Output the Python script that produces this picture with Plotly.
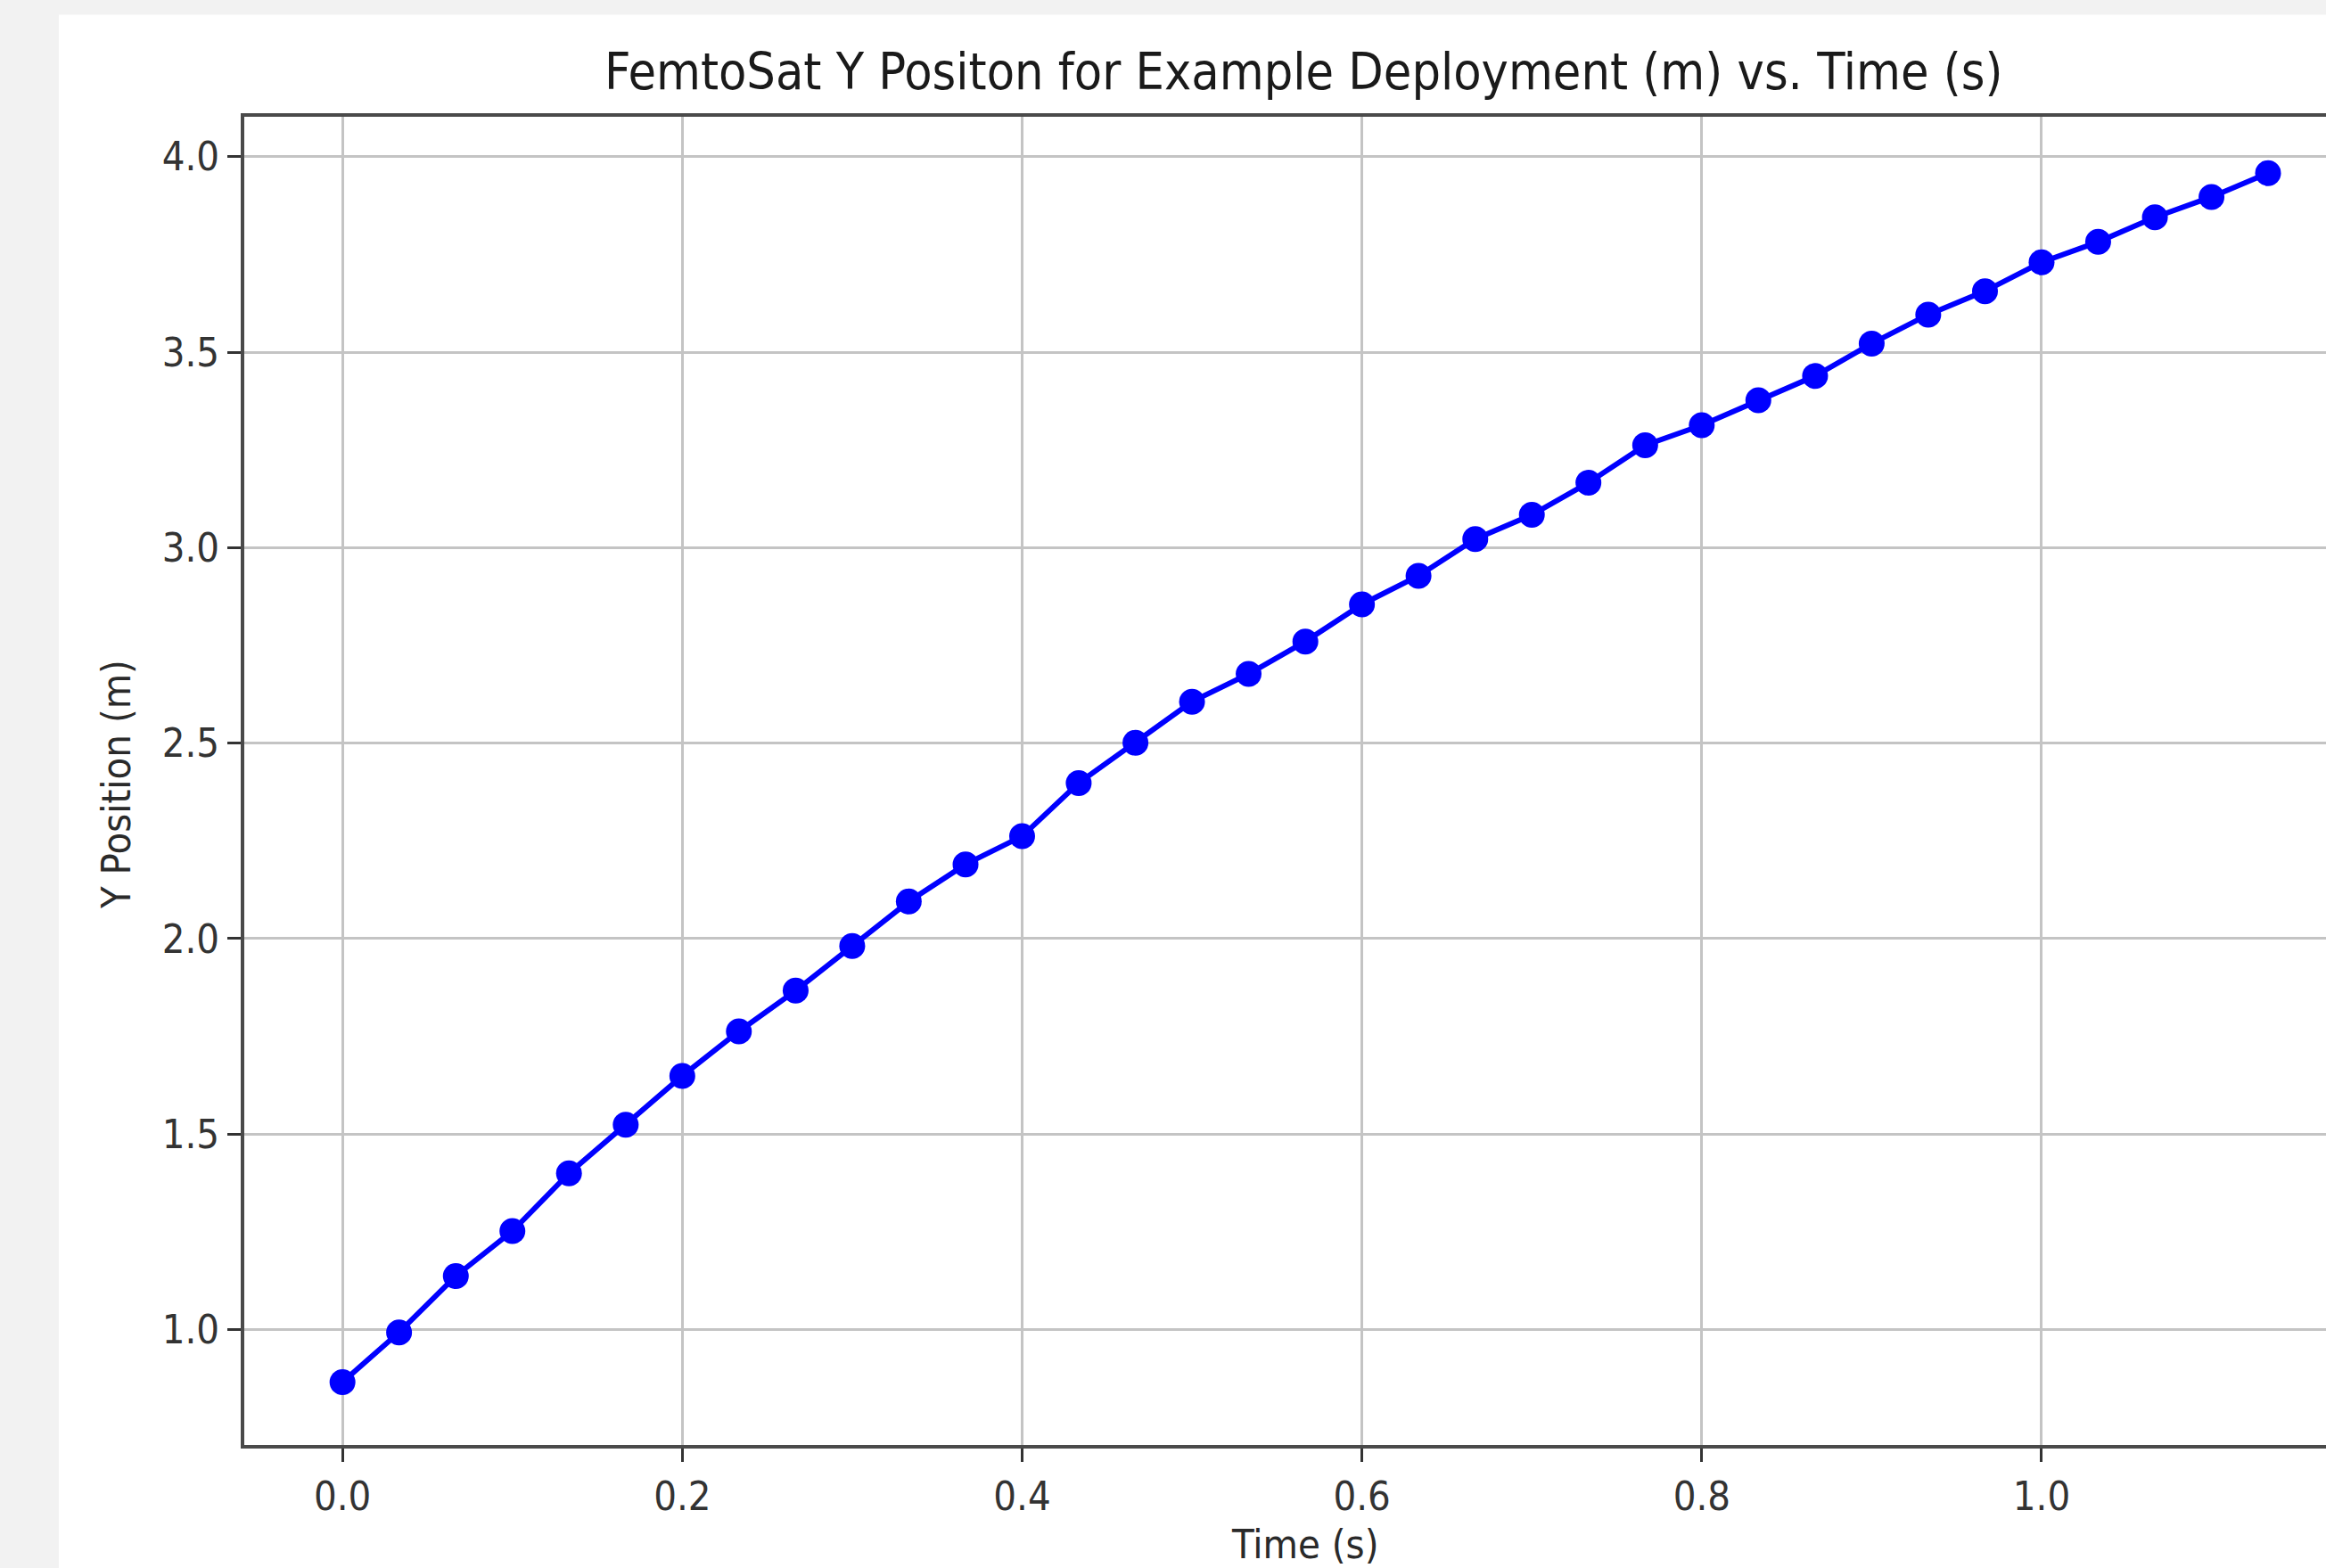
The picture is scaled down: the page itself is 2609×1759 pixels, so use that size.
import plotly.graph_objects as go

W, H = 2609, 1759

time_s = [0.0, 0.0333, 0.0667, 0.1, 0.1333, 0.1667, 0.2, 0.2333, 0.2667, 0.3,
          0.3333, 0.3667, 0.4, 0.4333, 0.4667, 0.5, 0.5333, 0.5667, 0.6, 0.6333,
          0.6667, 0.7, 0.7333, 0.7667, 0.8, 0.8333, 0.8667, 0.9, 0.9333, 0.9667,
          1.0, 1.0333, 1.0667, 1.1, 1.1333]
y_pos = [0.866, 0.993, 1.137, 1.252, 1.400, 1.524, 1.649, 1.763, 1.867, 1.981,
         2.095, 2.190, 2.262, 2.398, 2.501, 2.606, 2.677, 2.760, 2.855, 2.928,
         3.022, 3.084, 3.166, 3.262, 3.313, 3.377, 3.439, 3.522, 3.596, 3.656,
         3.730, 3.782, 3.845, 3.897, 3.958]

x_ticks = [0.0, 0.2, 0.4, 0.6, 0.8, 1.0]
x_tick_labels = ["0.0", "0.2", "0.4", "0.6", "0.8", "1.0"]
y_ticks = [1.0, 1.5, 2.0, 2.5, 3.0, 3.5, 4.0]
y_tick_labels = ["1.0", "1.5", "2.0", "2.5", "3.0", "3.5", "4.0"]

title_text = "FemtoSat Y Positon for Example Deployment (m) vs. Time (s)"
x_label = "Time (s)"
y_label = "Y Position (m)"

FONT = "DejaVu Sans Condensed, DejaVu Sans, sans-serif"

L, R, T, B = 274, 0, 131, 138

fig = go.Figure()
fig.add_trace(go.Scatter(
    x=time_s, y=y_pos, mode="lines+markers",
    line=dict(color="#0000ff", width=6),
    marker=dict(color="#0000ff", size=29, line=dict(width=0)),
    showlegend=False,
))

axis_common = dict(
    showgrid=True, gridcolor="#c4c4c4", gridwidth=3,
    showline=True, linecolor="#4a4a4a", linewidth=4,
    ticks="outside", ticklen=15, tickwidth=3, tickcolor="#333333",
    tickfont=dict(family=FONT, size=45, color="#333333"),
    zeroline=False,
)

fig.update_xaxes(range=[-0.0578, 1.1674], tickvals=x_ticks, ticktext=x_tick_labels,
                 mirror=True, **axis_common)
fig.update_yaxes(range=[0.705, 4.102], tickvals=y_ticks, ticktext=y_tick_labels,
                 mirror=False, **axis_common)

pw, ph = W - L - R, H - T - B
def px_x(x):
    return (x - L) / pw
def px_y(y):
    return (H - B - y) / ph

# gray page border strips
fig.add_shape(type="rect", xref="paper", yref="paper", layer="below",
              x0=px_x(0), x1=px_x(66), y0=px_y(H), y1=px_y(0),
              fillcolor="#f2f2f2", line=dict(width=0))
fig.add_shape(type="rect", xref="paper", yref="paper", layer="below",
              x0=px_x(0), x1=px_x(W), y0=px_y(16.5), y1=px_y(0),
              fillcolor="#f2f2f2", line=dict(width=0))

fig.add_annotation(text=title_text, xref="paper", yref="paper",
                   x=px_x(1462), y=px_y(80), xanchor="center", yanchor="middle",
                   showarrow=False, font=dict(family=FONT, size=57, color="#1a1a1a"))
fig.add_annotation(text=x_label, xref="paper", yref="paper",
                   x=px_x(1464), y=px_y(1732), xanchor="center", yanchor="middle",
                   showarrow=False, font=dict(family=FONT, size=45, color="#2a2a2a"))
fig.add_annotation(text=y_label, xref="paper", yref="paper",
                   x=px_x(131), y=px_y(880), xanchor="center", yanchor="middle",
                   textangle=-90,
                   showarrow=False, font=dict(family=FONT, size=45, color="#2a2a2a"))

fig.update_layout(
    width=W, height=H,
    margin=dict(l=L, r=R, t=T, b=B, pad=0),
    paper_bgcolor="#ffffff", plot_bgcolor="#ffffff",
)

fig.write_html("out.html", config={"displayModeBar": False},
               post_script="document.body.style.margin='0px';document.body.style.overflow='hidden';")
